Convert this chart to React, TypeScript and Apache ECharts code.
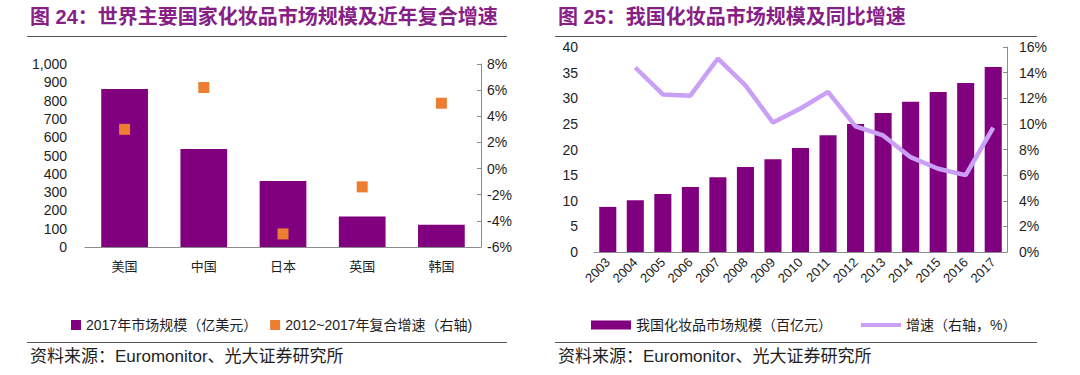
import React, { useEffect, useRef } from "react";
import * as echarts from "echarts";

const countries = ["美国", "中国", "日本", "英国", "韩国"];
const marketSize2017 = [863, 535, 361, 166, 122];
const cagr2012to2017 = [3.0, 6.2, -5.0, -1.4, 5.0];

const years = ["2003", "2004", "2005", "2006", "2007", "2008", "2009", "2010", "2011", "2012", "2013", "2014", "2015", "2016", "2017"];
const chinaSize = [8.8, 10.1, 11.3, 12.7, 14.6, 16.6, 18.1, 20.3, 22.8, 25.0, 27.1, 29.3, 31.2, 33.0, 36.1];
const chinaGrowth = [null, 14.4, 12.3, 12.2, 15.1, 13.0, 10.1, 11.2, 12.5, 9.8, 9.1, 7.4, 6.5, 6.0, 9.7];

const leftTitle = "图 24：世界主要国家化妆品市场规模及近年复合增速";
const rightTitle = "图 25：我国化妆品市场规模及同比增速";
const sourceText = "资料来源：Euromonitor、光大证券研究所";
const legendLeft = ["2017年市场规模（亿美元）", "2012~2017年复合增速（右轴)"];
const legendRight = ["我国化妆品市场规模（百亿元）", "增速（右轴，%）"];

const FONT = "'Liberation Sans', Arial, 'Noto Sans CJK SC', sans-serif";
const PURPLE = "#800080";
const ORANGE = "#ED7D31";
const LAVENDER = "#C9A0F5";
const TITLE = "#862086";
const AXIS = "#8c8c8c";
const TEXT = "#1e1e1e";

export default function App() {
  const ref = useRef<HTMLDivElement>(null);
  useEffect(() => {
    if (!ref.current) return;
    const chart = echarts.init(ref.current, null, { renderer: "svg" });
    const axisLabelBase = { color: TEXT, fontFamily: FONT, fontSize: 14 };
    const option: any = {
      animation: false,
      backgroundColor: "#fff",
      grid: [
        { left: 85, right: 1080 - 481, top: 64, bottom: 375 - 247 },
        { left: 594, right: 1080 - 1007, top: 47, bottom: 375 - 252 },
      ],
      xAxis: [
        {
          gridIndex: 0,
          type: "category",
          data: countries,
          axisLine: { lineStyle: { color: AXIS, width: 1 } },
          axisTick: { inside: true, length: 4, lineStyle: { color: AXIS } },
          axisLabel: { ...axisLabelBase, fontSize: 13, margin: 13 },
        },
        {
          gridIndex: 1,
          type: "category",
          data: years,
          axisLine: { lineStyle: { color: AXIS, width: 1 } },
          axisTick: { inside: true, length: 4, lineStyle: { color: AXIS } },
          axisLabel: { ...axisLabelBase, fontSize: 13, rotate: 45, margin: 8, interval: 0 },
        },
      ],
      yAxis: [
        {
          gridIndex: 0,
          type: "value",
          min: 0,
          max: 1000,
          interval: 100,
          splitLine: { show: false },
          axisLine: { show: false },
          axisTick: { show: false },
          axisLabel: {
            ...axisLabelBase,
            margin: 18,
            formatter: (v: number) => v.toLocaleString("en-US"),
          },
        },
        {
          gridIndex: 0,
          type: "value",
          position: "right",
          min: -6,
          max: 8,
          interval: 2,
          splitLine: { show: false },
          axisLine: { show: true, lineStyle: { color: AXIS } },
          axisTick: { show: true, inside: true, length: 4, lineStyle: { color: AXIS } },
          axisLabel: { ...axisLabelBase, margin: 6, formatter: "{value}%" },
        },
        {
          gridIndex: 1,
          type: "value",
          min: 0,
          max: 40,
          interval: 5,
          splitLine: { show: false },
          axisLine: { show: false },
          axisTick: { show: false },
          axisLabel: { ...axisLabelBase, margin: 16 },
        },
        {
          gridIndex: 1,
          type: "value",
          position: "right",
          min: 0,
          max: 16,
          interval: 2,
          splitLine: { show: false },
          axisLine: { show: true, lineStyle: { color: AXIS } },
          axisTick: { show: true, inside: true, length: 4, lineStyle: { color: AXIS } },
          axisLabel: { ...axisLabelBase, margin: 12, formatter: "{value}%" },
        },
      ],
      legend: [
        {
          left: 66,
          top: 313,
          itemWidth: 10,
          itemHeight: 10,
          itemGap: 13,
          icon: "rect",
          data: legendLeft,
          textStyle: { color: TEXT, fontFamily: FONT, fontSize: 14 },
        },
        {
          left: 586,
          top: 313,
          itemWidth: 40,
          itemHeight: 9,
          icon: "rect",
          data: [legendRight[0]],
          textStyle: { color: TEXT, fontFamily: FONT, fontSize: 14 },
        },
        {
          left: 856,
          top: 313,
          itemWidth: 40,
          itemHeight: 4,
          icon: "rect",
          data: [legendRight[1]],
          textStyle: { color: TEXT, fontFamily: FONT, fontSize: 14 },
        },
      ],
      series: [
        {
          name: legendLeft[0],
          type: "bar",
          xAxisIndex: 0,
          yAxisIndex: 0,
          data: marketSize2017,
          barWidth: "59%",
          itemStyle: { color: PURPLE },
        },
        {
          name: legendLeft[1],
          type: "scatter",
          xAxisIndex: 0,
          yAxisIndex: 1,
          data: cagr2012to2017,
          symbol: "rect",
          symbolSize: 11,
          itemStyle: { color: ORANGE, opacity: 1 },
        },
        {
          name: legendRight[0],
          type: "bar",
          xAxisIndex: 1,
          yAxisIndex: 2,
          data: chinaSize,
          barWidth: "62%",
          itemStyle: { color: PURPLE },
        },
        {
          name: legendRight[1],
          type: "line",
          xAxisIndex: 1,
          yAxisIndex: 3,
          data: chinaGrowth,
          symbol: "none",
          lineStyle: { color: LAVENDER, width: 4.5 },
          itemStyle: { color: LAVENDER },
        },
      ],
      graphic: [
        {
          type: "text",
          x: 30,
          y: 17,
          style: {
            text: leftTitle,
            fill: TITLE,
            fontFamily: FONT,
            fontSize: 20,
            fontWeight: "bold",
            verticalAlign: "middle",
          },
        },
        {
          type: "text",
          x: 558,
          y: 17,
          style: {
            text: rightTitle,
            fill: TITLE,
            fontFamily: FONT,
            fontSize: 20,
            fontWeight: "bold",
            verticalAlign: "middle",
          },
        },
        { type: "line", shape: { x1: 27, y1: 36.5, x2: 507, y2: 36.5 }, style: { stroke: "#555", lineWidth: 1 } },
        { type: "line", shape: { x1: 555, y1: 36.5, x2: 1037, y2: 36.5 }, style: { stroke: "#555", lineWidth: 1 } },
        { type: "line", shape: { x1: 27, y1: 342.5, x2: 507, y2: 342.5 }, style: { stroke: "#555", lineWidth: 1 } },
        { type: "line", shape: { x1: 555, y1: 342.5, x2: 1037, y2: 342.5 }, style: { stroke: "#555", lineWidth: 1 } },
        {
          type: "text",
          x: 30,
          y: 356,
          style: { text: sourceText, fill: TEXT, fontFamily: FONT, fontSize: 17, verticalAlign: "middle" },
        },
        {
          type: "text",
          x: 558,
          y: 356,
          style: { text: sourceText, fill: TEXT, fontFamily: FONT, fontSize: 17, verticalAlign: "middle" },
        },
      ],
    };
    chart.setOption(option);
    return () => chart.dispose();
  }, []);
  return <div ref={ref} style={{ position: "absolute", left: 0, top: 0, width: 1080, height: 375 }} />;
}
